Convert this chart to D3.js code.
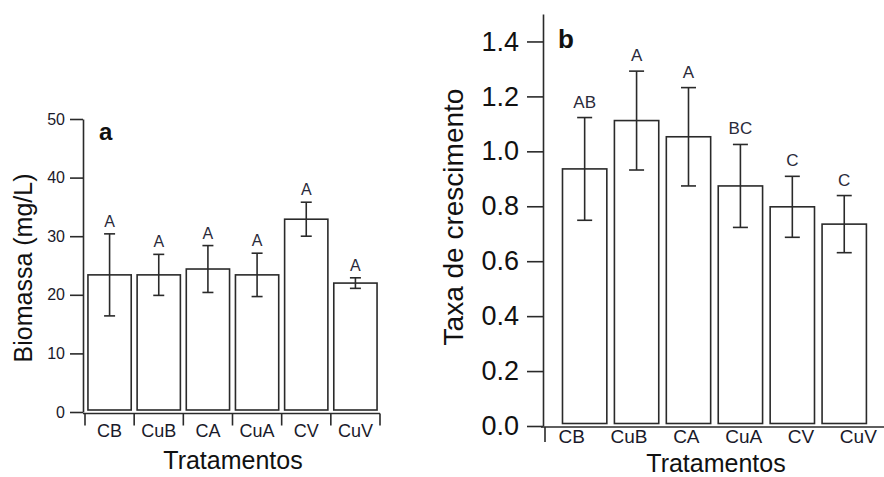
<!DOCTYPE html>
<html>
<head>
<meta charset="utf-8">
<script src="https://cdn.jsdelivr.net/npm/d3@7"></script>
<style>
  html, body { margin: 0; padding: 0; background: #fff; }
  svg { display: block; font-family: "Liberation Sans", Arial, sans-serif; }
</style>
</head>
<body>
<svg id="chart" width="884" height="477"></svg>
<script>
// ---- data ----
const categories = ["CB", "CuB", "CA", "CuA", "CV", "CuV"];
const biomassa = [23.4, 23.4, 24.4, 23.4, 32.9, 22.0];
const biomassaErr = [7.0, 3.5, 4.0, 3.7, 2.9, 0.9];
const biomassaLetters = ["A", "A", "A", "A", "A", "A"];
const taxa = [0.936, 1.112, 1.053, 0.874, 0.798, 0.735];
const taxaErr = [0.187, 0.180, 0.179, 0.151, 0.111, 0.104];
const taxaLetters = ["AB", "A", "A", "BC", "C", "C"];
const ticksA = [0, 10, 20, 30, 40, 50];
const ticksB = [0.0, 0.2, 0.4, 0.6, 0.8, 1.0, 1.2, 1.4];

const ink = "#2a2a2a";
const svg = d3.select("#chart");

// ================= Panel a =================
(function () {
  const g = svg.append("g");
  const y = d3.scaleLinear().domain([0, 50]).range([412, 119]);
  const x = d3.scaleBand().domain(categories).range([85, 380]).paddingInner(0.12).paddingOuter(0.06);

  // y axis
  const ya = g.append("g").attr("transform", "translate(83,0)")
    .call(d3.axisLeft(y).tickValues(ticksA).tickSize(13).tickSizeOuter(0).tickPadding(5).tickFormat(d3.format("d")));
  ya.selectAll("path, line").attr("stroke", ink).attr("stroke-width", 1.6);
  ya.selectAll("text").attr("font-size", 16).attr("fill", "#1a1a2a").attr("font-family", "Liberation Sans, Arial, sans-serif");

  // x axis line with boundary ticks
  const base = y(0) + 1.5;
  g.append("line").attr("x1", 83).attr("x2", x.range()[1]).attr("y1", base).attr("y2", base)
    .attr("stroke", ink).attr("stroke-width", 1.6);
  const bounds = categories.map(c => x(c) - x.step() * x.paddingInner() / 2);
  bounds.push(x.range()[1]);
  g.selectAll(".bt").data(bounds).join("line")
    .attr("x1", d => d).attr("x2", d => d).attr("y1", base).attr("y2", base + 12)
    .attr("stroke", ink).attr("stroke-width", 1.6);
  g.selectAll(".xl").data(categories).join("text")
    .attr("x", d => x(d) + x.bandwidth() / 2).attr("y", 437)
    .attr("text-anchor", "middle").attr("font-size", 18).attr("fill", "#1a1a2a").text(d => d);

  // bars
  g.selectAll(".bar").data(categories).join("rect")
    .attr("x", d => x(d)).attr("width", x.bandwidth())
    .attr("y", (d, i) => y(biomassa[i])).attr("height", (d, i) => y(0) - 2 - y(biomassa[i]))
    .attr("fill", "#fff").attr("stroke", ink).attr("stroke-width", 1.6);

  // error bars
  const cap = 11;
  categories.forEach((c, i) => {
    const cx = x(c) + x.bandwidth() / 2;
    const hi = y(biomassa[i] + biomassaErr[i]), lo = y(biomassa[i] - biomassaErr[i]);
    g.append("line").attr("x1", cx).attr("x2", cx).attr("y1", hi).attr("y2", lo).attr("stroke", ink).attr("stroke-width", 1.6);
    g.append("line").attr("x1", cx - cap / 2).attr("x2", cx + cap / 2).attr("y1", hi).attr("y2", hi).attr("stroke", ink).attr("stroke-width", 1.6);
    g.append("line").attr("x1", cx - cap / 2).attr("x2", cx + cap / 2).attr("y1", lo).attr("y2", lo).attr("stroke", ink).attr("stroke-width", 1.6);
    g.append("text").attr("x", cx).attr("y", hi - 7).attr("text-anchor", "middle")
      .attr("font-size", 16).attr("fill", "#2a2a3a").text(biomassaLetters[i]);
  });

  // titles
  g.append("text").attr("transform", "translate(32,268) rotate(-90)").attr("text-anchor", "middle")
    .attr("font-size", 25).attr("fill", "#111").text("Biomassa (mg/L)");
  g.append("text").attr("x", 233).attr("y", 469).attr("text-anchor", "middle")
    .attr("font-size", 25).attr("fill", "#111").text("Tratamentos");
  g.append("text").attr("x", 99).attr("y", 140).attr("font-size", 24).attr("font-weight", "bold")
    .attr("fill", "#111").text("a");
})();

// ================= Panel b =================
(function () {
  const g = svg.append("g");
  const y = d3.scaleLinear().domain([0, 1.5]).range([426, 14]);
  const x = d3.scaleBand().domain(categories).range([558.7, 870.2]).paddingInner(0.146).paddingOuter(0.073);
  const xl = d3.scaleBand().domain(categories).range([543, 887]);

  const ya = g.append("g").attr("transform", "translate(543,0)")
    .call(d3.axisLeft(y).tickValues(ticksB).tickSize(16).tickSizeOuter(0).tickPadding(8).tickFormat(d3.format(".1f")));
  ya.selectAll("path, line").attr("stroke", ink).attr("stroke-width", 1.6);
  ya.selectAll("text").attr("font-size", 27).attr("fill", "#111").attr("font-family", "Liberation Sans, Arial, sans-serif");

  const base = y(0) + 1;
  g.append("line").attr("x1", 541).attr("x2", 884).attr("y1", base).attr("y2", base)
    .attr("stroke", ink).attr("stroke-width", 1.6);
  g.append("line").attr("x1", 545).attr("x2", 545).attr("y1", base).attr("y2", base + 15)
    .attr("stroke", ink).attr("stroke-width", 1.6);
  g.selectAll(".xl").data(categories).join("text")
    .attr("x", d => xl(d) + xl.bandwidth() / 2).attr("y", 443)
    .attr("text-anchor", "middle").attr("font-size", 19).attr("fill", "#1a1a2a").text(d => d);

  g.selectAll(".bar").data(categories).join("rect")
    .attr("x", d => x(d)).attr("width", x.bandwidth())
    .attr("y", (d, i) => y(taxa[i])).attr("height", (d, i) => y(0) - 2.5 - y(taxa[i]))
    .attr("fill", "#fff").attr("stroke", ink).attr("stroke-width", 1.6);

  const cap = 15;
  categories.forEach((c, i) => {
    const cx = x(c) + x.bandwidth() / 2;
    const hi = y(taxa[i] + taxaErr[i]), lo = y(taxa[i] - taxaErr[i]);
    g.append("line").attr("x1", cx).attr("x2", cx).attr("y1", hi).attr("y2", lo).attr("stroke", ink).attr("stroke-width", 1.6);
    g.append("line").attr("x1", cx - cap / 2).attr("x2", cx + cap / 2).attr("y1", hi).attr("y2", hi).attr("stroke", ink).attr("stroke-width", 1.6);
    g.append("line").attr("x1", cx - cap / 2).attr("x2", cx + cap / 2).attr("y1", lo).attr("y2", lo).attr("stroke", ink).attr("stroke-width", 1.6);
    g.append("text").attr("x", cx).attr("y", hi - 10).attr("text-anchor", "middle")
      .attr("font-size", 17).attr("fill", "#2a2a3a").text(taxaLetters[i]);
  });

  g.append("text").attr("transform", "translate(463,217) rotate(-90)").attr("text-anchor", "middle")
    .attr("font-size", 28).attr("fill", "#111").text("Taxa de crescimento");
  g.append("text").attr("x", 716).attr("y", 471.5).attr("text-anchor", "middle")
    .attr("font-size", 25).attr("fill", "#111").text("Tratamentos");
  g.append("text").attr("x", 558).attr("y", 48).attr("font-size", 26).attr("font-weight", "bold")
    .attr("fill", "#111").text("b");
})();
</script>
</body>
</html>
